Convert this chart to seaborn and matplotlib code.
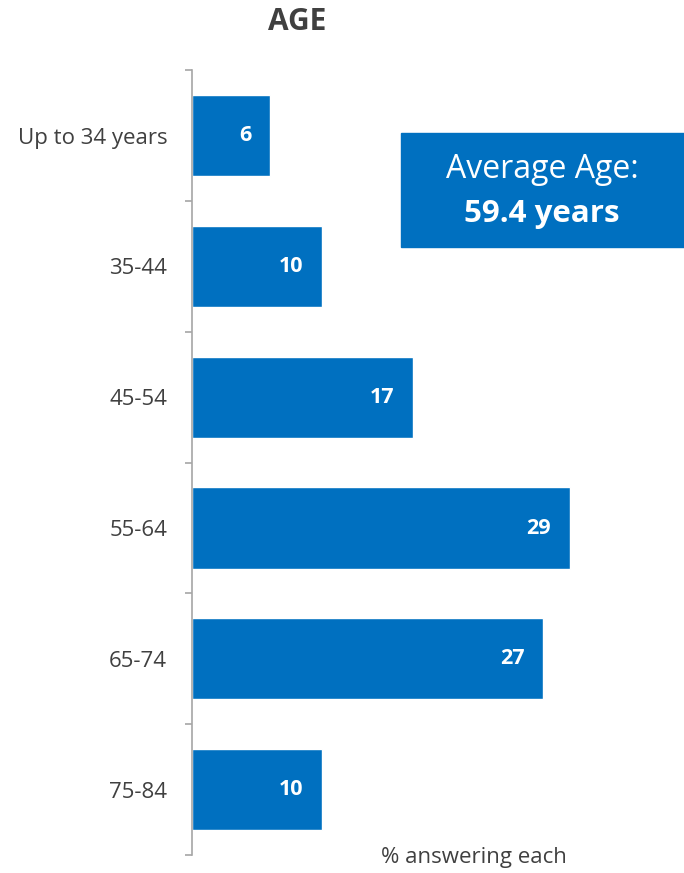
import numpy as np
import pandas as pd
import matplotlib.pyplot as plt
import seaborn as sns
from matplotlib.patches import Rectangle

# Data
age_groups = ['Up to 34 years', '35-44', '45-54', '55-64', '65-74', '75-84']
pct_answering = [6, 10, 17, 29, 27, 10]
average_age = 59.4

df = pd.DataFrame({'age': age_groups, 'pct': pct_answering})

sns.set_style('white')
plt.rcParams['font.family'] = ['Open Sans', 'DejaVu Sans']

blue = '#0070C0'
dark = '#404040'

fig = plt.figure(figsize=(6.84, 8.73), dpi=100)
ax = fig.add_axes([0.281, 0.0206, 0.719, 0.899])

sns.barplot(data=df, y='age', x='pct', orient='h', color=blue,
            width=0.62, saturation=1, ax=ax)

ax.set_xlim(0, 37.8)
ax.set_ylim(len(age_groups) - 0.5, -0.5)

# bar value labels, white bold inside the bar end
for i, v in enumerate(pct_answering):
    ax.text(v - 1.45, i, f'{v}', color='white', fontsize=15.5,
            fontweight='bold', ha='right', va='center')

# axis styling: only the left spine with ticks between categories
for side in ['top', 'right', 'bottom']:
    ax.spines[side].set_visible(False)
ax.spines['left'].set_color('#a6a6a6')
ax.spines['left'].set_linewidth(1.2)
ax.set_xticks([])
ax.set_xlabel('')
ax.set_ylabel('')
ax.set_yticks(range(len(age_groups)))
ax.set_yticklabels(age_groups, fontsize=16, color=dark)
ax.tick_params(axis='y', which='major', left=True, length=0, pad=18)
ax.set_yticks(np.arange(-0.5, len(age_groups), 1), minor=True)
ax.tick_params(axis='y', which='minor', left=True, length=5, width=1.2,
               color='#a6a6a6', direction='out')

# title
fig.text(297 / 684, 1 - 22 / 873, 'AGE', fontsize=21.5, fontweight='bold',
         color=dark, ha='center', va='center')

# average age box
box_l, box_t, box_r, box_b = 401, 133, 684, 247
fig.patches.append(Rectangle((box_l / 684, 1 - box_b / 873),
                             (box_r - box_l) / 684, (box_b - box_t) / 873,
                             transform=fig.transFigure, color=blue,
                             zorder=3))
fig.text(542 / 684, 1 - 170 / 873, 'Average Age:', fontsize=23,
         color='white', ha='center', va='center', zorder=4)
fig.text(542 / 684, 1 - 214 / 873, f'{average_age} years', fontsize=22.5,
         fontweight='bold', color='white', ha='center', va='center',
         zorder=4)

# x axis note
fig.text(474 / 684, 1 - 857 / 873, '% answering each', fontsize=16,
         color=dark, ha='center', va='center')

fig.savefig('out.png', dpi=100)
